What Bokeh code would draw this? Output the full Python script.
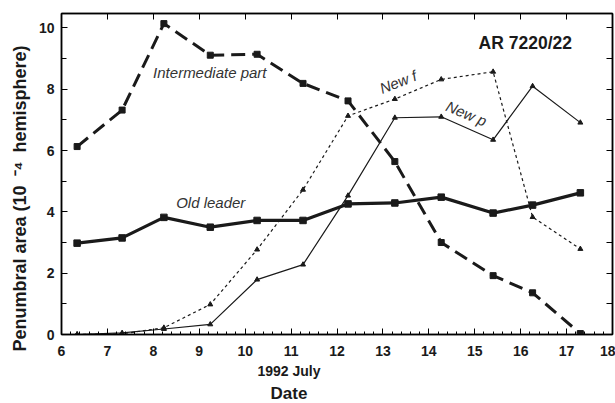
from bokeh.plotting import figure
from bokeh.models import Range1d, LinearAxis, FixedTicker, Label, Title, ColumnDataSource
from bokeh.embed import file_html
from bokeh.resources import INLINE

# ---- data ----
dates = [6.34, 7.32, 8.23, 9.24, 10.26, 11.26, 12.24, 13.26, 14.27, 15.40, 16.26, 17.30]
old_leader = [2.98, 3.15, 3.82, 3.50, 3.72, 3.72, 4.26, 4.29, 4.48, 3.96, 4.22, 4.62]
intermediate = [6.13, 7.32, 10.14, 9.11, 9.14, 8.19, 7.62, 5.64, 3.00, 1.92, 1.36, 0.03]
new_f = [0.00, 0.02, 0.22, 0.98, 2.77, 4.72, 7.13, 7.68, 8.32, 8.57, 3.83, 2.79]
new_p = [0.00, 0.05, 0.18, 0.33, 1.79, 2.28, 4.53, 7.07, 7.10, 6.35, 8.10, 6.91]
x_ticks = list(range(6, 19))
y_ticks = [0, 2, 4, 6, 8, 10]

FONT = "Liberation Sans"
INK = "#1a1a1a"

src = ColumnDataSource(dict(x=dates, old=old_leader, mid=intermediate, nf=new_f, np_=new_p))

p = figure(width=615, height=403, output_backend="svg", toolbar_location=None,
           x_range=Range1d(6, 18), y_range=Range1d(0, 10.47),
           min_border_left=61, min_border_right=3, min_border_top=13, min_border_bottom=68)
p.grid.visible = False
p.outline_line_color = INK
p.outline_line_width = 1.5
p.background_fill_color = "white"
p.border_fill_color = "white"

# bottom axis
xa = p.xaxis[0]
xa.ticker = FixedTicker(ticks=x_ticks, minor_ticks=[6 + i * 0.2 for i in range(61)])
xa.major_tick_in = 6
xa.major_tick_out = 0
xa.minor_tick_in = 3
xa.minor_tick_out = 0
xa.axis_line_width = 1.5
xa.major_label_standoff = 11
xa.major_label_text_font = FONT
xa.major_label_text_font_style = "bold"
xa.major_label_text_font_size = "14px"
xa.major_label_text_color = INK

# left axis
ya = p.yaxis[0]
ya.ticker = FixedTicker(ticks=y_ticks, minor_ticks=[1, 3, 5, 7, 9])
ya.major_tick_in = 6
ya.major_tick_out = 0
ya.minor_tick_in = 5
ya.minor_tick_out = 0
ya.axis_line_width = 1.5
ya.major_label_standoff = 7
ya.major_label_text_font = FONT
ya.major_label_text_font_style = "bold"
ya.major_label_text_font_size = "14px"
ya.major_label_text_color = INK

# top and right axes (ticks only)
top = LinearAxis(ticker=FixedTicker(ticks=x_ticks), major_label_text_font_size="0px",
                 major_tick_in=6, major_tick_out=0, minor_tick_line_color=None,
                 axis_line_width=1.5, major_label_standoff=0)
top.major_label_text_color = None
p.add_layout(top, "above")
right = LinearAxis(ticker=FixedTicker(ticks=list(range(0, 11))), major_label_text_font_size="0px",
                   major_tick_in=6, major_tick_out=0, minor_tick_line_color=None,
                   axis_line_width=1.5, major_label_standoff=0)
right.major_label_text_color = None
p.add_layout(right, "right")

# axis titles (placed off-centre, as in the original)
ylab = Title(text="Penumbral area (10\u2002\u207b\u2074\u2002hemisphere)", align="left", offset=-17,
             standoff=11, text_font=FONT, text_font_size="18px", text_font_style="bold",
             text_color=INK)
p.add_layout(ylab, "left")
xlab1 = Title(text="1992 July", align="left", offset=196, standoff=5, text_font=FONT,
              text_font_size="14px", text_font_style="bold", text_color=INK)
p.add_layout(xlab1, "below")
xlab2 = Title(text="Date", align="left", offset=209, standoff=1, text_font=FONT,
              text_font_size="17px", text_font_style="bold", text_color=INK)
p.add_layout(xlab2, "below")

# series
p.line("x", "mid", source=src, line_width=3, line_dash="14 7", color=INK)
p.scatter("x", "mid", source=src, marker="square", size=6, color=INK)

p.line("x", "old", source=src, line_width=3.2, color=INK)
p.scatter("x", "old", source=src, marker="square", size=6.5, color=INK)

p.line("x", "nf", source=src, line_width=1.2, line_dash="3 3", color=INK)
p.scatter("x", "nf", source=src, marker="triangle", size=5, color=INK)

p.line("x", "np_", source=src, line_width=1.2, color=INK)
p.scatter("x", "np_", source=src, marker="triangle", size=5, color=INK)

# annotations
def lab(x, y, t, size="15px", style="italic", angle=0.0, color="#333333"):
    p.add_layout(Label(x=x, y=y, text=t, text_align="center", text_baseline="middle",
                       text_font=FONT, text_font_size=size, text_font_style=style,
                       angle=angle, text_color=color))

lab(9.23, 8.54, "Intermediate part")
lab(9.25, 4.29, "Old leader")
lab(13.33, 8.24, "New f", angle=0.37)
lab(14.82, 7.21, "New p", angle=-0.40)
lab(16.10, 9.51, "AR 7220/22", size="17.5px", style="bold", color=INK)

open("out.html", "w").write(file_html(p, INLINE))
